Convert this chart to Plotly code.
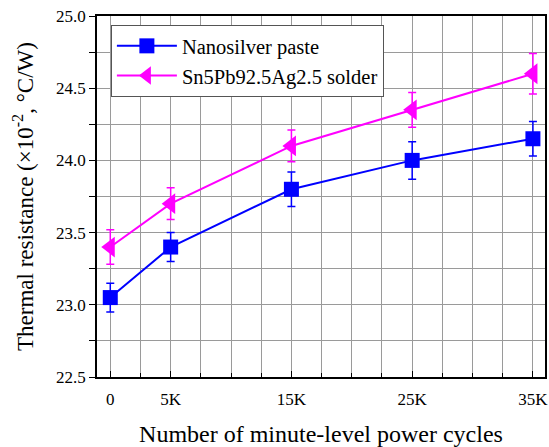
import plotly.graph_objects as go

cycles = [0, 5000, 15000, 25000, 35000]
tick_labels = ["0", "5K", "15K", "25K", "35K"]

nano_vals = [23.05, 23.40, 23.80, 24.00, 24.15]
nano_err = [0.10, 0.10, 0.12, 0.13, 0.12]

solder_vals = [23.40, 23.70, 24.10, 24.35, 24.60]
solder_err = [0.12, 0.11, 0.11, 0.12, 0.14]

FONT = "Liberation Serif, Times New Roman, serif"

fig = go.Figure()
fig.add_trace(go.Scatter(
    x=cycles, y=nano_vals, name="Nanosilver paste", mode="lines+markers",
    line=dict(color="#0000FF", width=2),
    marker=dict(symbol="square", size=15, color="#0000FF"),
    error_y=dict(type="data", array=nano_err, color="#0000FF", thickness=1.5, width=4),
))
fig.add_trace(go.Scatter(
    x=cycles, y=solder_vals, name="Sn5Pb92.5Ag2.5 solder", mode="lines+markers",
    line=dict(color="#FF00FF", width=2),
    marker=dict(symbol="triangle-left", size=18, color="#FF00FF"),
    error_y=dict(type="data", array=solder_err, color="#FF00FF", thickness=1.5, width=4),
))

fig.update_layout(
    width=549, height=447,
    margin=dict(l=97, r=4, t=16, b=70),
    paper_bgcolor="white", plot_bgcolor="white",
    font=dict(family=FONT, color="black", size=17),
    showlegend=True,
    legend=dict(
        x=0.031, y=0.975, xanchor="left", yanchor="top",
        bgcolor="white", bordercolor="#555555", borderwidth=1,
        font=dict(family=FONT, size=20.5, color="black"),
        itemwidth=60, tracegroupgap=0,
    ),
)

fig.update_xaxes(
    range=[-1100, 36000], automargin=False,
    tickvals=cycles, ticktext=tick_labels,
    ticks="inside", ticklen=6, tickcolor="black",
    ticklabelstandoff=6,
    showline=True, linecolor="black", linewidth=1.5, mirror=True,
    showgrid=True, gridcolor="#9a9a9a", gridwidth=1,
    zeroline=False,
    tickfont=dict(family=FONT, size=17),
    minor=dict(dtick=2500, tick0=0, ticks="inside", ticklen=4, tickcolor="black",
               showgrid=True, gridcolor="#9a9a9a", gridwidth=1),
    title=dict(text="Number of minute-level power cycles",
               font=dict(family=FONT, size=24), standoff=20),
)
fig.update_yaxes(
    range=[22.5, 25.0], dtick=0.5, tick0=22.5, tickformat=".1f", automargin=False,
    ticks="outside", ticklen=6, tickcolor="black",
    showline=True, linecolor="black", linewidth=1.5, mirror=True,
    showgrid=True, gridcolor="#9a9a9a", gridwidth=1,
    zeroline=False,
    tickfont=dict(family=FONT, size=17),
    minor=dict(dtick=0.25, ticks="outside", ticklen=6, tickcolor="black",
               showgrid=True, gridcolor="#9a9a9a", gridwidth=1),
    title=dict(text="Thermal resistance (×10<sup>-2</sup>, °C/W)",
               font=dict(family=FONT, size=23), standoff=16),
)

fig.write_html("out.html")
